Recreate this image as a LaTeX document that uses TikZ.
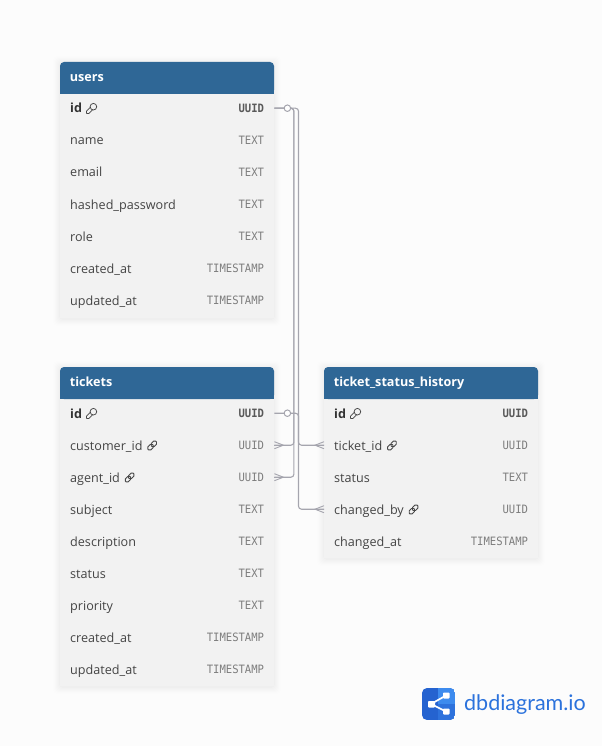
\documentclass[tikz,border=0pt]{standalone}
\usepackage{fontspec}
\setmainfont{Open Sans}
\newfontfamily\typefont[FakeStretch=0.92]{DejaVu Sans Mono}
\newfontfamily\logofont{Lato}
\usetikzlibrary{calc}
\definecolor{bgc}{HTML}{FCFCFC}
\definecolor{headc}{HTML}{2F6796}
\definecolor{rowc}{HTML}{F2F2F2}
\definecolor{namec}{HTML}{444444}
\definecolor{typec}{HTML}{7D7D7D}
\definecolor{linkc}{HTML}{A5A5AE}
\definecolor{logoa}{HTML}{2563D0}
\definecolor{logob}{HTML}{3D8BEE}
\definecolor{logoc}{HTML}{2E72DC}
\definecolor{logot}{HTML}{2B72DC}
\tikzset{
  x=1pt,y=-1pt,
  rowbox/.style={minimum width=214pt,minimum height=32pt,inner sep=0pt,anchor=north west},
  fname/.style={anchor=base west,inner sep=0pt,text=namec,font=\fontsize{12.6}{14}\selectfont},
  fnamepk/.style={fname,text=black!80,font=\fontsize{12.6}{14}\bfseries\selectfont},
  ftype/.style={anchor=base east,inner sep=0pt,text=typec,font=\fontsize{11.5}{13}\typefont},
  ftypepk/.style={ftype,text=black!65,font=\fontsize{11.5}{13}\typefont\bfseries},
  tabletitle/.style={anchor=base west,inner sep=0pt,text=white,font=\fontsize{12.6}{14}\bfseries\selectfont},
  rel/.style={draw=linkc,line width=1.1pt,rounded corners=3pt},
  footline/.style={draw=linkc,line width=0.9pt},
  circ/.style={draw=linkc,line width=1pt,fill=white,circle,inner sep=0pt,minimum size=6.5pt},
  iconline/.style={draw=black!72,line width=0.75pt},
}
% table shell: #1 name, #2 x, #3 y, #4 width, #5 bottom y, #6 title
\newcommand{\tableshell}[6]{
  \foreach \s/\o in {7/0.004,6/0.005,5/0.006,4/0.007,3/0.008,2/0.009,1/0.01}{
    \fill[black,opacity=\o,rounded corners=4pt] (#2-\s,#3-\s+1) rectangle (#2+#4+\s,#5+\s+1);
  }
  \fill[rowc] (#2,#3+20) rectangle (#2+#4,#5);
  \fill[headc,rounded corners=4pt] (#2,#3) -- (#2+#4,#3) -- (#2+#4,#3+32) -- (#2,#3+32) -- cycle;
  \fill[headc] (#2,#3+10) rectangle (#2+#4,#3+32);
  \node[tabletitle] (#1-title) at (#2+9.6,#3+19.7) {#6};
}
% row: #1 node, #2 x, #3 centre y, #4 name, #5 type, #6 name style, #7 type style
\newcommand{\tablerow}[7]{
  \node[rowbox] (#1) at (#2,#3-16) {};
  \node[#6] (#1-n) at (#2+10,#3+5) {#4};
  \node[#7] (#1-t) at (#2+204.3,#3+4.5) {#5};
}
\newcommand{\keyicon}[1]{
  \begin{scope}[shift={(#1-n.base east)}]
    \draw[iconline,line join=round] (8.4,-6) -- (4.4,-2) -- (4.4,0.4) -- (6.8,0.4) -- (10.8,-3.6);
    \draw[iconline,fill=rowc] (11.2,-6.3) circle (3.3pt);
  \end{scope}
}
\newcommand{\linkicon}[1]{
  \begin{scope}[shift={($(#1-n.base east)+(9.5,-4.5)$)},rotate=45]
    \draw[iconline,line width=0.9pt,rounded corners=1.6pt] (-5.6,-2.1) rectangle (0.9,2.1);
    \draw[iconline,line width=0.9pt,rounded corners=1.6pt] (-0.9,-2.1) rectangle (5.6,2.1);
  \end{scope}
}
\newcommand{\crowL}[1]{% table on the left, row node #1
  \draw[footline] ($(#1.east)+(0,-3.5)$) -- ($(#1.east)+(9,0)$) -- ($(#1.east)+(0,3.5)$);
  \draw[footline] (#1.east) -- ($(#1.east)+(9,0)$);
}
\newcommand{\crowR}[1]{% table on the right
  \draw[footline] ($(#1.west)+(0,-3.5)$) -- ($(#1.west)+(-9,0)$) -- ($(#1.west)+(0,3.5)$);
  \draw[footline] (#1.west) -- ($(#1.west)+(-9,0)$);
}
\begin{document}
\begin{tikzpicture}
\useasboundingbox (0,0) rectangle (602,746);
\fill[bgc] (0,0) rectangle (602,746);

% users
\tableshell{u}{60}{62}{214}{318}{users}
\tablerow{u1}{60}{108}{id}{UUID}{fnamepk}{ftypepk}
\tablerow{u2}{60}{140}{name}{TEXT}{fname}{ftype}
\tablerow{u3}{60}{172}{email}{TEXT}{fname}{ftype}
\tablerow{u4}{60}{204}{hashed\_password}{TEXT}{fname}{ftype}
\tablerow{u5}{60}{236}{role}{TEXT}{fname}{ftype}
\tablerow{u6}{60}{268}{created\_at}{TIMESTAMP}{fname}{ftype}
\tablerow{u7}{60}{300}{updated\_at}{TIMESTAMP}{fname}{ftype}
\keyicon{u1}

% tickets
\tableshell{t}{60}{367}{214}{686}{tickets}
\tablerow{t1}{60}{413}{id}{UUID}{fnamepk}{ftypepk}
\tablerow{t2}{60}{445}{customer\_id}{UUID}{fname}{ftype}
\tablerow{t3}{60}{477}{agent\_id}{UUID}{fname}{ftype}
\tablerow{t4}{60}{509}{subject}{TEXT}{fname}{ftype}
\tablerow{t5}{60}{541}{description}{TEXT}{fname}{ftype}
\tablerow{t6}{60}{573}{status}{TEXT}{fname}{ftype}
\tablerow{t7}{60}{605}{priority}{TEXT}{fname}{ftype}
\tablerow{t8}{60}{637}{created\_at}{TIMESTAMP}{fname}{ftype}
\tablerow{t9}{60}{669}{updated\_at}{TIMESTAMP}{fname}{ftype}
\keyicon{t1}
\linkicon{t2}
\linkicon{t3}

% ticket_status_history
\tableshell{h}{324}{367}{214}{558}{ticket\_status\_history}
\tablerow{h1}{324}{413}{id}{UUID}{fnamepk}{ftypepk}
\tablerow{h2}{324}{445}{ticket\_id}{UUID}{fname}{ftype}
\tablerow{h3}{324}{477}{status}{TEXT}{fname}{ftype}
\tablerow{h4}{324}{509}{changed\_by}{UUID}{fname}{ftype}
\tablerow{h5}{324}{541}{changed\_at}{TIMESTAMP}{fname}{ftype}
\keyicon{h1}
\linkicon{h2}
\linkicon{h4}

% relationships
\draw[rel] (u1.east) -| ($(t2.east)+(19.5,0)$) -- (t2.east);
\draw[rel] (u1.east) -| ($(t3.east)+(19.5,0)$) -- (t3.east);
\draw[rel] (u1.east) -| ($(h4.west)+(-25.5,0)$) -- (h4.west);
\draw[rel] (t1.east) -| ($(h2.west)+(-25.5,0)$) -- (h2.west);
\node[circ] (cu) at ($(u1.east)+(13,0)$) {};
\node[circ] (ct) at ($(t1.east)+(13,0)$) {};
\crowL{t2}
\crowL{t3}
\crowR{h2}
\crowR{h4}

% logo
\begin{scope}
  \clip[rounded corners=5pt] (422,688) rectangle (455,720);
  \fill[logoa] (422,688) rectangle (455,720);
  \fill[logob] (438,688) rectangle (455,704);
  \fill[logoc] (438,704) rectangle (455,720);
\end{scope}
\draw[white,line width=1.7pt,line join=round] (446,695.5) -- (431,704) -- (446,711.5);
\fill[white,rounded corners=0.8pt] (428,701) rectangle (435,707.5);
\fill[white,rounded corners=0.8pt] (443,692.5) rectangle (449.5,698.5);
\fill[white,rounded corners=0.8pt] (443,708.5) rectangle (449.5,714.5);
\node[anchor=west,inner sep=0pt,text=logot,font=\fontsize{21.5}{24}\logofont] (logo) at (464,704.5) {dbdiagram.io};
\end{tikzpicture}
\end{document}
